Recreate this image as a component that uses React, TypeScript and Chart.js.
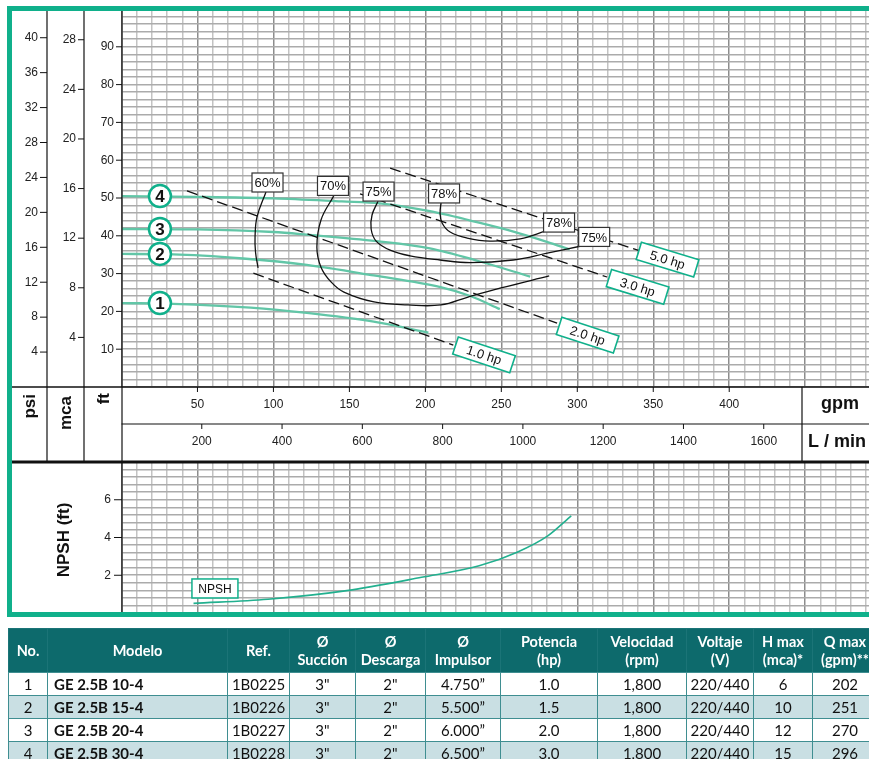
import React, { useEffect, useRef } from 'react';
import { Chart, registerables } from 'chart.js';

Chart.register(...registerables);

// ---------------- data ----------------
const GPM_MAX = 492;
const FT_MAX = 100;
const NPSH_MAX = 8;
const FT_PER_PSI = 2.31;
const FT_PER_MCA = 3.281;
const LPM_PER_GPM = 3.785;

// pump head curves (gpm -> ft)
const pump1Gpm = [0, 34, 85, 122, 166, 202];
const pump1Ft = [22.2, 22.0, 21.0, 19.6, 17.3, 14.4];
const pump2Gpm = [0, 34, 80, 122, 166, 210, 230, 249];
const pump2Ft = [35.2, 35.1, 34.0, 32.3, 29.5, 26.4, 24.0, 20.6];
const pump3Gpm = [0, 50, 100, 122, 168, 203, 236, 269];
const pump3Ft = [41.8, 41.7, 41.0, 40.3, 38.6, 36.7, 33.2, 29.2];
const pump4Gpm = [0, 50, 100, 145, 170, 203, 236, 258, 280, 295];
const pump4Ft = [50.5, 50.3, 49.9, 49.1, 48.6, 46.5, 43.4, 41.1, 38.4, 36.4];
const pumpNumbers = ['1', '2', '3', '4'];
const pumpNumberGpm = 25.3;

// power lines
const hpLabels = ['1.0 hp', '2.0 hp', '3.0 hp', '5.0 hp'];
const hpStartGpm = [86.8, 43.1, 157.0, 176.8];
const hpStartFt = [30.1, 51.9, 51.1, 57.9];
const hpEndGpm = [218.4, 286.7, 319.6, 341.3];
const hpEndFt = [11.1, 16.9, 29.1, 36.0];
const hpLabelGpm = [238.6, 306.8, 339.7, 359.4];
const hpLabelFt = [8.5, 13.7, 26.5, 33.7];

// efficiency curves
const eff60Gpm = [95.1, 89.2, 87.9, 88.2, 89.9];
const eff60Ft = [51.6, 45.0, 39.7, 35.7, 31.5];
const eff70Gpm = [139.6, 131.3, 128.6, 131.3, 137.9, 146.4, 166.2, 188.6, 210.3, 228.1, 249.8, 281.5];
const eff70Ft = [50.5, 44.2, 37.0, 31.7, 27.8, 25.1, 22.5, 21.7, 21.7, 23.8, 26.2, 29.4];
const eff75Gpm = [168.9, 164.9, 164.3, 167.6, 176.8, 189.9, 209.7, 229.5, 257.8, 280.2, 302.6];
const eff75Ft = [49.2, 45.5, 41.8, 38.6, 36.2, 34.7, 33.6, 32.9, 33.6, 35.4, 37.3];
const eff78Gpm = [210.3, 209.7, 211.0, 216.3, 227.5, 242.6, 262.4, 279.5];
const eff78Ft = [48.7, 46.0, 43.4, 41.0, 39.4, 38.6, 39.2, 41.3];
const effLabels = ['60%', '70%', '75%', '78%', '78%', '75%'];
const effLabelGpm = [96.1, 139.2, 169.2, 212.3, 288.0, 311.1];
const effLabelFt = [54.1, 53.2, 51.7, 51.2, 43.5, 39.7];

// NPSH
const npshGpm = [47.4, 96.4, 147.1, 197.5, 235.4, 260.4, 280.8, 296];
const npshFt = [0.51, 0.73, 1.17, 1.89, 2.5, 3.22, 4.1, 5.15];
const npshLabel = 'NPSH';
const npshLabelGpm = 61.5;
const npshLabelFt = 1.3;

// tick labels
const psiTicks = [4, 8, 12, 16, 20, 24, 28, 32, 36, 40];
const mcaTicks = [4, 8, 12, 16, 20, 24, 28];
const ftTicks = [10, 20, 30, 40, 50, 60, 70, 80, 90];
const gpmTicks = [50, 100, 150, 200, 250, 300, 350, 400];
const lpmTicks = [200, 400, 600, 800, 1000, 1200, 1400, 1600];
const npshTicks = [2, 4, 6];

// table
const tblNo = ['1', '2', '3', '4'];
const tblModelo = ['GE 2.5B 10-4', 'GE 2.5B 15-4', 'GE 2.5B 20-4', 'GE 2.5B 30-4'];
const tblRef = ['1B0225', '1B0226', '1B0227', '1B0228'];
const tblSuccion = ['3"', '3"', '3"', '3"'];
const tblDescarga = ['2"', '2"', '2"', '2"'];
const tblImpulsor = ['4.750”', '5.500”', '6.000”', '6.500”'];
const tblPotencia = ['1.0', '1.5', '2.0', '3.0'];
const tblVelocidad = ['1,800', '1,800', '1,800', '1,800'];
const tblVoltaje = ['220/440', '220/440', '220/440', '220/440'];
const tblHmax = ['6', '10', '12', '15'];
const tblQmax = ['202', '251', '270', '296'];
const tblHeaders = [['No.'], ['Modelo'], ['Ref.'], ['Ø', 'Succión'], ['Ø', 'Descarga'], ['Ø', 'Impulsor'], ['Potencia', '(hp)'], ['Velocidad', '(rpm)'], ['Voltaje', '(V)'], ['H max', '(mca)*'], ['Q max', '(gpm)**']];

// ---------------- styles ----------------
const TEAL = '#10b08b';
const CURVE = '#62c6a7';
const FONT = '"Liberation Sans", Arial, sans-serif';

const zip = (xs: number[], ys: number[]) => xs.map((x, i) => ({ x, y: ys[i] }));
const range = (n: number, step: number) => Array.from({ length: n + 1 }, (_, i) => ({ value: +(i * step).toFixed(4) }));

function line(ctx: CanvasRenderingContext2D, x1: number, y1: number, x2: number, y2: number) {
  ctx.beginPath();
  ctx.moveTo(x1, y1);
  ctx.lineTo(x2, y2);
  ctx.stroke();
}

function rotLabel(ctx: CanvasRenderingContext2D, text: string, x: number, y: number, size: number) {
  ctx.save();
  ctx.translate(x, y);
  ctx.rotate(-Math.PI / 2);
  ctx.font = `bold ${size}px ${FONT}`;
  ctx.fillStyle = '#111';
  ctx.textAlign = 'right';
  ctx.textBaseline = 'middle';
  ctx.fillText(text, 0, 0);
  ctx.restore();
}

const mainDecor = {
  id: 'mainDecor',
  afterDraw(chart: any) {
    const ctx: CanvasRenderingContext2D = chart.ctx;
    const xs = chart.scales.x;
    const ys = chart.scales.y;
    const { left, right, bottom } = chart.chartArea;
    ctx.save();
    // column lines
    ctx.strokeStyle = '#111';
    ctx.lineWidth = 1.2;
    line(ctx, 47, 9, 47, 462);
    line(ctx, 84, 9, 84, 462);
    line(ctx, left + 0.5, 9, left + 0.5, 462);
    // bottom of plot
    ctx.lineWidth = 1.5;
    line(ctx, 12, bottom, right, bottom);
    ctx.lineWidth = 1.2;
    line(ctx, left, 424, right, 424);
    line(ctx, 802, bottom, 802, 462);

    ctx.font = `12px ${FONT}`;
    ctx.fillStyle = '#222';
    ctx.textBaseline = 'middle';
    ctx.textAlign = 'right';
    ctx.lineWidth = 1;
    psiTicks.forEach(v => {
      const y = ys.getPixelForValue(v * FT_PER_PSI);
      line(ctx, 40, y, 47, y);
      ctx.fillText(String(v), 38, y);
    });
    mcaTicks.forEach(v => {
      const y = ys.getPixelForValue(v * FT_PER_MCA);
      line(ctx, 78, y, 84, y);
      ctx.fillText(String(v), 76, y);
    });
    ftTicks.forEach(v => {
      const y = ys.getPixelForValue(v);
      line(ctx, 116, y, 122, y);
      ctx.fillText(String(v), 114, y);
    });
    // gpm / L/min axes
    ctx.textAlign = 'center';
    gpmTicks.forEach(v => {
      const x = xs.getPixelForValue(v);
      line(ctx, x, bottom, x, bottom + 5);
      ctx.fillText(String(v), x, 405);
    });
    lpmTicks.forEach(v => {
      const x = xs.getPixelForValue(v / LPM_PER_GPM);
      line(ctx, x, 424, x, 429);
      ctx.fillText(String(v), x, 442);
    });
    ctx.font = `bold 18px ${FONT}`;
    ctx.fillStyle = '#111';
    ctx.fillText('gpm', 840, 404);
    ctx.textAlign = 'left';
    ctx.fillText('L / min', 808, 442);
    rotLabel(ctx, 'psi', 30, 394, 17);
    rotLabel(ctx, 'mca', 66, 396, 17);
    rotLabel(ctx, 'ft', 104, 393, 17);

    // hp labels
    hpLabels.forEach((lab, i) => {
      const x1 = xs.getPixelForValue(hpStartGpm[i]);
      const y1 = ys.getPixelForValue(hpStartFt[i]);
      const x2 = xs.getPixelForValue(hpEndGpm[i]);
      const y2 = ys.getPixelForValue(hpEndFt[i]);
      const ang = Math.atan2(y2 - y1, x2 - x1) * 0.92;
      const cx = xs.getPixelForValue(hpLabelGpm[i]);
      const cy = ys.getPixelForValue(hpLabelFt[i]);
      ctx.save();
      ctx.translate(cx, cy);
      ctx.rotate(ang);
      ctx.fillStyle = '#fff';
      ctx.fillRect(-30, -9, 60, 18);
      ctx.strokeStyle = TEAL;
      ctx.lineWidth = 1.6;
      ctx.strokeRect(-30, -9, 60, 18);
      ctx.fillStyle = '#111';
      ctx.font = `13px ${FONT}`;
      ctx.textAlign = 'center';
      ctx.textBaseline = 'middle';
      ctx.fillText(lab, 0, 1);
      ctx.restore();
    });

    // efficiency labels
    effLabels.forEach((lab, i) => {
      const cx = xs.getPixelForValue(effLabelGpm[i]);
      const cy = ys.getPixelForValue(effLabelFt[i]);
      ctx.fillStyle = '#fff';
      ctx.fillRect(cx - 15.5, cy - 9.5, 31, 19);
      ctx.strokeStyle = '#333';
      ctx.lineWidth = 1.2;
      ctx.strokeRect(cx - 15.5, cy - 9.5, 31, 19);
      ctx.fillStyle = '#111';
      ctx.font = `13px ${FONT}`;
      ctx.textAlign = 'center';
      ctx.textBaseline = 'middle';
      ctx.fillText(lab, cx, cy + 1);
    });

    // pump number circles
    const heads = [pump1Ft[0], pump2Ft[0], pump3Ft[0], pump4Ft[0]];
    pumpNumbers.forEach((n, i) => {
      const cx = xs.getPixelForValue(pumpNumberGpm);
      const cy = ys.getPixelForValue(heads[i]);
      ctx.beginPath();
      ctx.arc(cx, cy, 11, 0, Math.PI * 2);
      ctx.fillStyle = '#fff';
      ctx.fill();
      ctx.strokeStyle = TEAL;
      ctx.lineWidth = 2.5;
      ctx.stroke();
      ctx.fillStyle = '#111';
      ctx.font = `bold 17px ${FONT}`;
      ctx.textAlign = 'center';
      ctx.textBaseline = 'middle';
      ctx.fillText(n, cx, cy + 1);
    });
    ctx.restore();
  },
};

const npshDecor = {
  id: 'npshDecor',
  afterDraw(chart: any) {
    const ctx: CanvasRenderingContext2D = chart.ctx;
    const xs = chart.scales.x;
    const ys = chart.scales.y;
    const { left, right } = chart.chartArea;
    ctx.save();
    ctx.strokeStyle = '#111';
    ctx.lineWidth = 3;
    line(ctx, 12, 2, right, 2);
    ctx.lineWidth = 1.2;
    line(ctx, left + 0.5, 2, left + 0.5, chart.height);
    ctx.lineWidth = 1;
    ctx.font = `12px ${FONT}`;
    ctx.fillStyle = '#222';
    ctx.textAlign = 'right';
    ctx.textBaseline = 'middle';
    npshTicks.forEach(v => {
      const y = ys.getPixelForValue(v);
      line(ctx, 114, y, 122, y);
      ctx.fillText(String(v), 111, y);
    });
    ctx.save();
    ctx.translate(64, 80);
    ctx.rotate(-Math.PI / 2);
    ctx.font = `bold 17px ${FONT}`;
    ctx.fillStyle = '#111';
    ctx.textAlign = 'center';
    ctx.fillText('NPSH (ft)', 0, 0);
    ctx.restore();
    const cx = xs.getPixelForValue(npshLabelGpm);
    const cy = ys.getPixelForValue(npshLabelFt);
    ctx.fillStyle = '#fff';
    ctx.fillRect(cx - 23, cy - 9.5, 46, 19);
    ctx.strokeStyle = TEAL;
    ctx.lineWidth = 1.5;
    ctx.strokeRect(cx - 23, cy - 9.5, 46, 19);
    ctx.fillStyle = '#111';
    ctx.font = `12px ${FONT}`;
    ctx.textAlign = 'center';
    ctx.fillText(npshLabel, cx, cy + 1);
    ctx.restore();
  },
};

function xScale() {
  return {
    type: 'linear',
    min: 0,
    max: GPM_MAX,
    afterBuildTicks: (s: any) => { s.ticks = range(49, 10); },
    afterFit: (s: any) => { s.height = 0; },
    ticks: { display: false },
    border: { display: false },
    grid: {
      drawTicks: false,
      lineWidth: 1.5,
      color: (c: any) => (c.tick && c.tick.value % 50 === 0 ? '#8d8d8d' : '#c3c3c3'),
    },
  };
}

export default function App() {
  const mainRef = useRef<HTMLCanvasElement>(null);
  const npshRef = useRef<HTMLCanvasElement>(null);

  useEffect(() => {
    const effStyle = { borderColor: '#111', borderWidth: 1.3, tension: 0.4, pointRadius: 0 };
    const pumpStyle = { borderColor: CURVE, borderWidth: 2.3, cubicInterpolationMode: 'monotone', pointRadius: 0 };
    const hpData = hpLabels.map((lab, i) => ({
      label: lab,
      data: [{ x: hpStartGpm[i], y: hpStartFt[i] }, { x: hpEndGpm[i], y: hpEndFt[i] }],
      borderColor: '#111',
      borderWidth: 1.3,
      borderDash: [11, 5],
      pointRadius: 0,
    }));
    const c1 = new Chart(mainRef.current as HTMLCanvasElement, {
      type: 'line',
      data: {
        datasets: [
          { label: '60%', data: zip(eff60Gpm, eff60Ft), ...effStyle },
          { label: '70%', data: zip(eff70Gpm, eff70Ft), ...effStyle },
          { label: '75%', data: zip(eff75Gpm, eff75Ft), ...effStyle },
          { label: '78%', data: zip(eff78Gpm, eff78Ft), ...effStyle },
          ...hpData,
          { label: '1', data: zip(pump1Gpm, pump1Ft), ...pumpStyle },
          { label: '2', data: zip(pump2Gpm, pump2Ft), ...pumpStyle },
          { label: '3', data: zip(pump3Gpm, pump3Ft), ...pumpStyle },
          { label: '4', data: zip(pump4Gpm, pump4Ft), ...pumpStyle },
        ],
      } as any,
      options: {
        animation: false,
        responsive: false,
        devicePixelRatio: 1,
        layout: { padding: { left: 121.5, right: 0, top: 9, bottom: 75 } },
        plugins: { legend: { display: false }, tooltip: { enabled: false } },
        scales: {
          x: xScale(),
          y: {
            type: 'linear',
            min: 0,
            max: FT_MAX,
            afterBuildTicks: (s: any) => { s.ticks = range(50, 2); },
            afterFit: (s: any) => { s.width = 0; },
            ticks: { display: false },
            border: { display: false },
            grid: { drawTicks: false, lineWidth: 1.6, color: '#ababab' },
          },
        },
      } as any,
      plugins: [mainDecor],
    });
    const c2 = new Chart(npshRef.current as HTMLCanvasElement, {
      type: 'line',
      data: {
        datasets: [
          { label: 'NPSH', data: zip(npshGpm, npshFt), borderColor: '#22b08f', borderWidth: 1.6, cubicInterpolationMode: 'monotone', pointRadius: 0 },
        ],
      } as any,
      options: {
        animation: false,
        responsive: false,
        devicePixelRatio: 1,
        layout: { padding: { left: 121.5, right: 0, top: 2, bottom: 4 } },
        plugins: { legend: { display: false }, tooltip: { enabled: false } },
        scales: {
          x: xScale(),
          y: {
            type: 'linear',
            min: 0,
            max: NPSH_MAX,
            afterBuildTicks: (s: any) => { s.ticks = range(20, 0.4); },
            afterFit: (s: any) => { s.width = 0; },
            ticks: { display: false },
            border: { display: false },
            grid: { drawTicks: false, lineWidth: 1.6, color: '#ababab' },
          },
        },
      } as any,
      plugins: [npshDecor],
    });
    return () => {
      c1.destroy();
      c2.destroy();
    };
  }, []);

  const colWidths = [39, 180, 62, 66, 70, 75, 97, 89, 67, 59, 65];
  const rows = tblNo.map((n, i) => [n, tblModelo[i], tblRef[i], tblSuccion[i], tblDescarga[i], tblImpulsor[i], tblPotencia[i], tblVelocidad[i], tblVoltaje[i], tblHmax[i], tblQmax[i]]);
  const bodyBorder = '1.5px solid #3f8e91';

  return (
    <div style={{ position: 'absolute', left: 0, top: 0, width: 869, height: 759, overflow: 'hidden', background: '#fff' }}>
      <canvas ref={mainRef} width={869} height={462} style={{ position: 'absolute', left: 0, top: 0 }} />
      <canvas ref={npshRef} width={869} height={157} style={{ position: 'absolute', left: 0, top: 460 }} />
      <div style={{ position: 'absolute', left: 7, top: 6, width: 920, height: 611, border: `5px solid ${TEAL}`, boxSizing: 'border-box', pointerEvents: 'none' }} />
      <table
        style={{
          position: 'absolute', left: 8, top: 628, borderCollapse: 'collapse', tableLayout: 'fixed',
          width: colWidths.reduce((a, b) => a + b, 0), fontFamily: 'Lato, "Open Sans", sans-serif', color: '#111',
        }}
      >
        <colgroup>
          {colWidths.map((w, i) => <col key={i} style={{ width: w }} />)}
        </colgroup>
        <thead>
          <tr style={{ height: 44, background: '#0d6a6c' }}>
            {tblHeaders.map((h, i) => (
              <th key={i} style={{ color: '#fff', fontWeight: 700, fontSize: 14.5, lineHeight: '18px', padding: 0, textAlign: 'center', border: '1px solid #1b7477', borderBottom: bodyBorder, whiteSpace: 'nowrap' }}>
                {h.map((t, j) => <div key={j}>{t}</div>)}
              </th>
            ))}
          </tr>
        </thead>
        <tbody>
          {rows.map((r, i) => (
            <tr key={i} style={{ height: 23, background: i % 2 === 1 ? '#c9dfe3' : '#fff' }}>
              {r.map((c, j) => (
                <td key={j} style={{ border: bodyBorder, padding: j === 1 ? '0 0 0 6px' : 0, textAlign: j === 1 ? 'left' : 'center', fontSize: 15, fontWeight: j === 1 ? 700 : 400, lineHeight: '20px', whiteSpace: 'nowrap' }}>
                  {c}
                </td>
              ))}
            </tr>
          ))}
        </tbody>
      </table>
    </div>
  );
}
